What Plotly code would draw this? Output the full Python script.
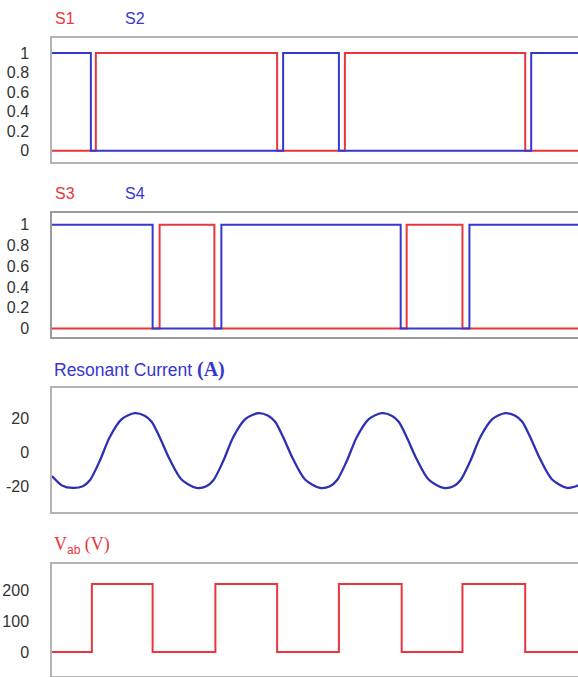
import plotly.graph_objects as go

# ---- data (time axis in arbitrary units) ----
t_s1 = [0, 44, 226, 294, 475, 530]
s1 = [0, 1, 0, 1, 0, 0]
t_s2 = [0, 39, 232, 288, 481, 530]
s2 = [1, 0, 1, 0, 1, 1]
t_s3 = [0, 108, 163, 356, 412, 530]
s3 = [0, 1, 0, 1, 0, 0]
t_s4 = [0, 101, 170, 350, 419, 530]
s4 = [1, 0, 1, 0, 1, 1]

t_cur = [0, 10,
         21, 31, 38, 48, 58, 70, 83, 93, 100, 108, 118, 130,
         145, 155, 162, 172, 182, 194, 207, 217, 224, 232, 242, 254,
         269, 279, 286, 296, 306, 318, 331, 341, 348, 356, 366, 378,
         393, 403, 410, 420, 430, 442, 455, 465, 472, 480, 490, 502,
         517, 526, 530]
i_cur = [-14, -19.5,
         -21, -20, -16.5, -5, 9, 19.5, 23, 21.5, 18, 9, -4, -16,
         -21, -20, -16.5, -5, 9, 19.5, 23, 21.5, 18, 9, -4, -16,
         -21, -20, -16.5, -5, 9, 19.5, 23, 21.5, 18, 9, -4, -16,
         -21, -20, -16.5, -5, 9, 19.5, 23, 21.5, 18, 9, -4, -16,
         -21, -20, -19]

t_vab = [0, 40, 101, 164, 226, 288, 351, 412, 475, 530]
vab = [0, 220, 0, 220, 0, 220, 0, 220, 0, 0]

tick_sw = [0, 0.2, 0.4, 0.6, 0.8, 1]
tick_sw_txt = ["0", "0.2", "0.4", "0.6", "0.8", "1"]
tick_cur = [-20, 0, 20]
tick_cur_txt = ["-20", "0", "20"]
tick_vab = [0, 100, 200]

RED = "#e8363c"
BLUE = "#3636d0"
DBLUE = "#2f2fb4"

W, H = 582, 677
ML = 52

fig = go.Figure()
fig.add_trace(go.Scatter(x=t_s1, y=s1, mode="lines", line=dict(color=RED, width=2, shape="hv"), xaxis="x", yaxis="y"))
fig.add_trace(go.Scatter(x=t_s2, y=s2, mode="lines", line=dict(color=BLUE, width=2, shape="hv"), xaxis="x", yaxis="y"))
fig.add_trace(go.Scatter(x=t_s3, y=s3, mode="lines", line=dict(color=RED, width=2, shape="hv"), xaxis="x2", yaxis="y2"))
fig.add_trace(go.Scatter(x=t_s4, y=s4, mode="lines", line=dict(color=BLUE, width=2, shape="hv"), xaxis="x2", yaxis="y2"))
fig.add_trace(go.Scatter(x=t_cur, y=i_cur, mode="lines", line=dict(color=DBLUE, width=2.3, shape="spline", smoothing=0.8), xaxis="x3", yaxis="y3"))
fig.add_trace(go.Scatter(x=t_vab, y=vab, mode="lines", line=dict(color=RED, width=2, shape="hv"), xaxis="x4", yaxis="y4"))


def dom(top_px, bot_px):
    return [1 - bot_px / H, 1 - top_px / H]


xcommon = dict(range=[0, 530], showticklabels=False, ticks="", showgrid=False, zeroline=False,
               showline=True, mirror=True, linewidth=1.5)
ycommon = dict(showgrid=False, zeroline=False, ticks="", ticklabelstandoff=18,
               tickfont=dict(family="Liberation Sans", size=16, color="#333333"),
               showline=True, mirror=True, linewidth=1.5)

fig.update_layout(
    width=W, height=H,
    margin=dict(l=ML, r=0, t=0, b=0),
    paper_bgcolor="white", plot_bgcolor="white",
    showlegend=False,
    xaxis=dict(**xcommon, domain=[0, 1], anchor="y", linecolor="#b4b4b4"),
    xaxis2=dict(**xcommon, domain=[0, 1], anchor="y2", linecolor="#9a9a9a"),
    xaxis3=dict(**xcommon, domain=[0, 1], anchor="y3", linecolor="#b4b4b4"),
    xaxis4=dict(**xcommon, domain=[0, 1], anchor="y4", linecolor="#b4b4b4"),
    yaxis=dict(**ycommon, domain=dom(38, 162), range=[-0.112, 1.153], anchor="x",
               tickvals=tick_sw, ticktext=tick_sw_txt, linecolor="#b4b4b4"),
    yaxis2=dict(**ycommon, domain=dom(213, 337), range=[-0.077, 1.115], anchor="x2",
                tickvals=tick_sw, ticktext=tick_sw_txt, linecolor="#9a9a9a"),
    yaxis3=dict(**ycommon, domain=dom(389, 513), range=[-35.3, 37.6], anchor="x3",
                tickvals=tick_cur, ticktext=tick_cur_txt, linecolor="#b4b4b4"),
    yaxis4=dict(**ycommon, domain=dom(565, 677), range=[-77.4, 283.9], anchor="x4",
                tickvals=tick_vab, linecolor="#b4b4b4"),
)


def px_x(x):
    return (x - ML) / (W - ML)


def px_y(y):
    return 1 - y / H


ann = [
    dict(text="S1", x=px_x(53), y=px_y(19), color=RED, font="Liberation Sans", size=16),
    dict(text="S2", x=px_x(123), y=px_y(19), color=BLUE, font="Liberation Sans", size=16),
    dict(text="S3", x=px_x(53), y=px_y(194), color=RED, font="Liberation Sans", size=16),
    dict(text="S4", x=px_x(123), y=px_y(194), color=BLUE, font="Liberation Sans", size=16),
    dict(text="Resonant Current <span style='font-family:Liberation Serif;font-size:20px;font-weight:bold'>(A)</span>",
         x=px_x(52), y=px_y(370), color=BLUE, font="Liberation Sans", size=17.5),
    dict(text="V<sub><span style='font-family:Liberation Sans;font-size:12px'>ab</span></sub> (V)",
         x=px_x(52), y=px_y(546), color=RED, font="Liberation Serif", size=18),
]
for a in ann:
    fig.add_annotation(text=a["text"], x=a["x"], y=a["y"], xref="paper", yref="paper",
                       xanchor="left", yanchor="middle", showarrow=False,
                       font=dict(family=a["font"], size=a["size"], color=a["color"]))

fig.write_html("out.html", config={"displayModeBar": False},
               post_script="document.body.style.margin='0';document.body.style.overflow='hidden';")
